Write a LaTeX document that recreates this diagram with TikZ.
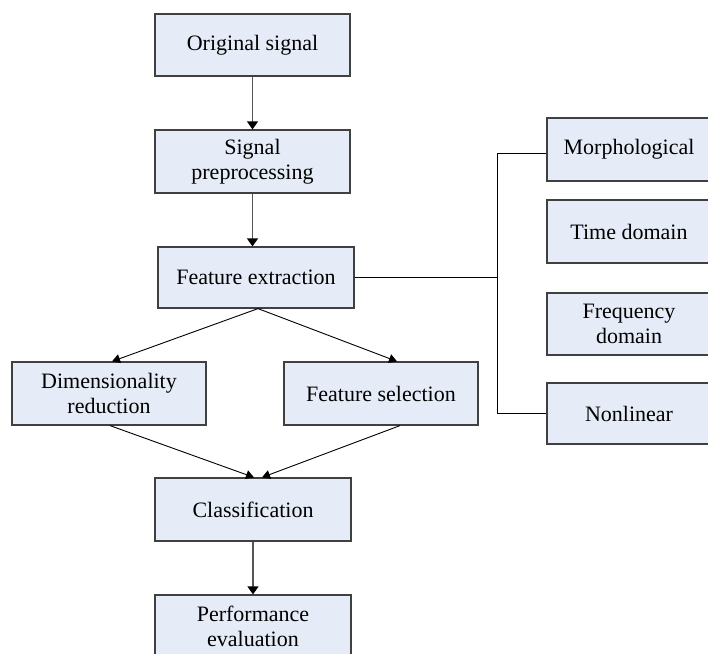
\documentclass[tikz,border=0pt]{standalone}
\usepackage{fontspec}
\setmainfont{Liberation Serif}
\usetikzlibrary{arrows.meta}
\definecolor{boxfill}{HTML}{E6ECF7}
\definecolor{boxline}{HTML}{404040}
\definecolor{arrline}{HTML}{555555}
\begin{document}
\begin{tikzpicture}[x=1pt,y=-1pt,
  box/.style={draw=boxline,fill=boxfill,line width=1.2pt,minimum height=62pt,
    inner sep=0pt,align=center,font=\fontsize{22}{25}\selectfont},
  vline/.style={draw=arrline,line width=1.3pt,-{Triangle[length=8pt,width=11pt,color=black]}},
  dline/.style={draw=black,line width=0.9pt,-{Triangle[length=8pt,width=9pt]}},
  bline/.style={draw=black,line width=0.9pt}]
\useasboundingbox (0,0) rectangle (708,653);
\clip (0,0) rectangle (708,653);
\node[box,minimum width=195pt] (os) at (252.5,45) {Original signal};
\node[box,minimum width=195pt,minimum height=63pt] (sp) at (252.5,161.5) {Signal\\preprocessing};
\node[box,minimum width=196pt,minimum height=61pt] (fe) at (256,277.5) {Feature extraction};
\node[box,minimum width=194pt,minimum height=63pt] (dr) at (109,393.5) {Dimensionality\\reduction};
\node[box,minimum width=194pt,minimum height=63pt] (fs) at (381,393.5) {Feature selection};
\node[box,minimum width=196pt,minimum height=63pt] (cl) at (253,509.5) {Classification};
\node[box,minimum width=196pt,minimum height=63pt] (pe) at (253,626.5) {Performance\\evaluation};
\node[box,minimum width=164pt,minimum height=63pt] (mo) at (629,149.5) {Morphological};
\node[box,minimum width=164pt,minimum height=63pt] (td) at (629,231.5) {Time domain};
\node[box,minimum width=164pt,minimum height=62pt] (fd) at (629,324) {Frequency\\domain};
\node[box,minimum width=164pt,minimum height=61pt] (nl) at (629,413.5) {Nonlinear};
\coordinate (br) at (497,277.5);
\coordinate (brt) at (497,153);
\coordinate (brb) at (497,413);
\draw[vline] (os) -- (sp);
\draw[vline] (sp.south) -- (sp.south |- fe.north);
\draw[vline] (cl) -- (pe);
\draw[dline] ([xshift=2pt]fe.south) -- ([xshift=3pt]dr.north);
\draw[dline] ([xshift=2pt]fe.south) -- ([xshift=16pt]fs.north);
\draw[dline] ([xshift=1pt]dr.south) -- ([xshift=1pt]cl.north);
\draw[dline] ([xshift=19pt]fs.south) -- ([xshift=9pt]cl.north);
\draw[bline] (fe.east) -- (br);
\draw[bline] (mo.west |- brt) -- (brt) -- (brb) -- (nl.west |- brb);
\end{tikzpicture}
\end{document}
